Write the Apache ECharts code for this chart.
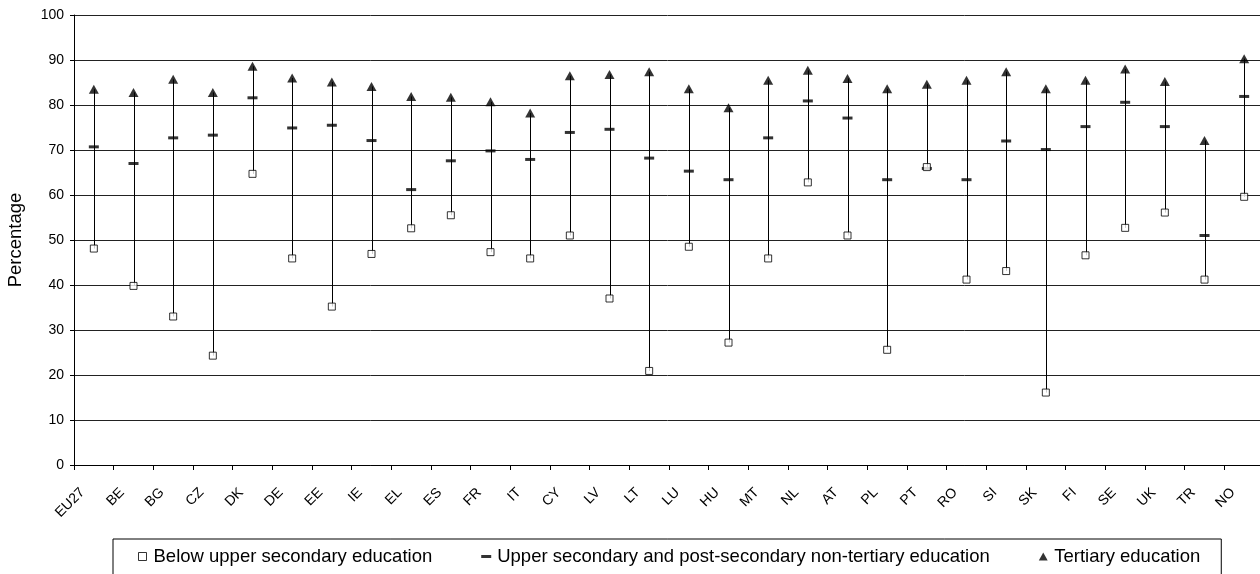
<!DOCTYPE html>
<html>
<head>
<meta charset="utf-8">
<script src="https://cdn.jsdelivr.net/npm/echarts@6/dist/echarts.min.js"></script>
<style>html,body{margin:0;padding:0;background:#fff}#chart{width:1260px;height:574px}</style>
</head>
<body>
<div id="chart"></div>
<script>
var categories = ['EU27','BE','BG','CZ','DK','DE','EE','IE','EL','ES','FR','IT','CY','LV','LT','LU','HU','MT','NL','AT','PL','PT','RO','SI','SK','FI','SE','UK','TR','NO'];
var belowUpperSecondary = [48.1,39.8,33.0,24.3,64.7,45.9,35.2,46.9,52.6,55.5,47.3,45.9,51.0,37.0,20.9,48.5,27.2,45.9,62.8,51.0,25.6,66.2,41.2,43.1,16.1,46.6,52.7,56.1,41.2,59.6];
var upperSecondary = [70.7,67.0,72.7,73.3,81.6,74.9,75.5,72.1,61.2,67.6,69.8,67.9,73.9,74.6,68.2,65.3,63.4,72.7,80.9,77.1,63.4,65.9,63.4,72.0,70.1,75.2,80.6,75.2,51.0,81.9];
var tertiary = [83.5,82.8,85.7,82.8,88.6,86.0,85.1,84.1,81.9,81.7,80.7,78.2,86.5,86.8,87.4,83.6,79.4,85.5,87.7,85.9,83.6,84.6,85.5,87.4,83.6,85.5,88.0,85.2,72.1,90.3];
var yTicks = [0,10,20,30,40,50,60,70,80,90,100];
var seriesNames = ['Below upper secondary education','Upper secondary and post-secondary non-tertiary education','Tertiary education'];

var rangeData = categories.map(function(c, i){
  var lo = Math.min(belowUpperSecondary[i], upperSecondary[i], tertiary[i]);
  var hi = Math.max(belowUpperSecondary[i], upperSecondary[i], tertiary[i]);
  return [i, lo, hi];
});

var chart = echarts.init(document.getElementById('chart'), null, {renderer:'canvas'});
var font = 'Liberation Sans, Arial, sans-serif';
chart.setOption({
  animation: false,
  textStyle: {fontFamily: font, color: '#000'},
  grid: {left: 74, right: -4, top: 15, bottom: 109, containLabel: false, outerBoundsMode: 'none'},
  legend: {
    left: 113, top: 539,
    padding: [8, 21, 30, 25],
    borderColor: '#000', borderWidth: 1,
    itemWidth: 10, itemHeight: 8, itemGap: 49,
    symbolKeepAspect: true,
    textStyle: {fontSize: 18.5, fontFamily: font, color: '#000', padding: [0,0,0,1]},
    data: [
      {name: seriesNames[0], icon: 'path://M0,0L8,0L8,8L0,8Z', itemStyle: {color: '#fff', borderColor: '#000', borderWidth: 1}},
      {name: seriesNames[1], icon: 'path://M0,0L10,0L10,3L0,3Z', itemStyle: {color: '#000'}},
      {name: seriesNames[2], icon: 'path://M5,0L10,9L0,9Z', itemStyle: {color: '#000'}}
    ]
  },
  xAxis: {
    type: 'category', data: categories, boundaryGap: true,
    axisLine: {lineStyle: {color: '#000', width: 1}},
    axisTick: {show: true, length: 5, lineStyle: {color: '#000'}},
    axisLabel: {interval: 0, rotate: 45, fontSize: 14, color: '#000', fontFamily: font, margin: 14, padding: [0, 16, 0, 0]},
    splitLine: {show: false}
  },
  yAxis: {
    type: 'value', min: 0, max: 100, interval: 10,
    name: 'Percentage', nameLocation: 'middle', nameGap: 49,
    nameTextStyle: {fontSize: 18.5, color: '#000', fontFamily: font},
    axisLine: {show: true, lineStyle: {color: '#000', width: 1}},
    axisTick: {show: true, length: 4, lineStyle: {color: '#000'}},
    axisLabel: {fontSize: 14, color: '#000', fontFamily: font, margin: 10,
      formatter: function(v){ return yTicks.indexOf(v) >= 0 ? String(v) : ''; }},
    splitLine: {show: true, lineStyle: {color: '#222', width: 1}}
  },
  series: [
    {
      type: 'custom', name: 'range', silent: true, z: 1,
      data: rangeData,
      renderItem: function(params, api){
        var p1 = api.coord([api.value(0), api.value(1)]);
        var p2 = api.coord([api.value(0), api.value(2)]);
        var x = Math.round(p1[0]) + 0.5;
        return {type: 'line', shape: {x1: x, y1: p1[1], x2: x, y2: p2[1]}, style: {stroke: '#000', lineWidth: 1}};
      }
    },
    {
      type: 'scatter', name: seriesNames[2], z: 3,
      symbol: 'triangle', symbolSize: [10, 9],
      itemStyle: {color: '#000'},
      data: tertiary
    },
    {
      type: 'scatter', name: seriesNames[1], z: 4,
      symbol: 'rect', symbolSize: [10, 3],
      itemStyle: {color: '#000'},
      data: upperSecondary
    },
    {
      type: 'scatter', name: seriesNames[0], z: 5,
      symbol: 'rect', symbolSize: 7,
      itemStyle: {color: '#fff', borderColor: '#000', borderWidth: 1},
      data: belowUpperSecondary
    }
  ]
});
</script>
</body>
</html>
